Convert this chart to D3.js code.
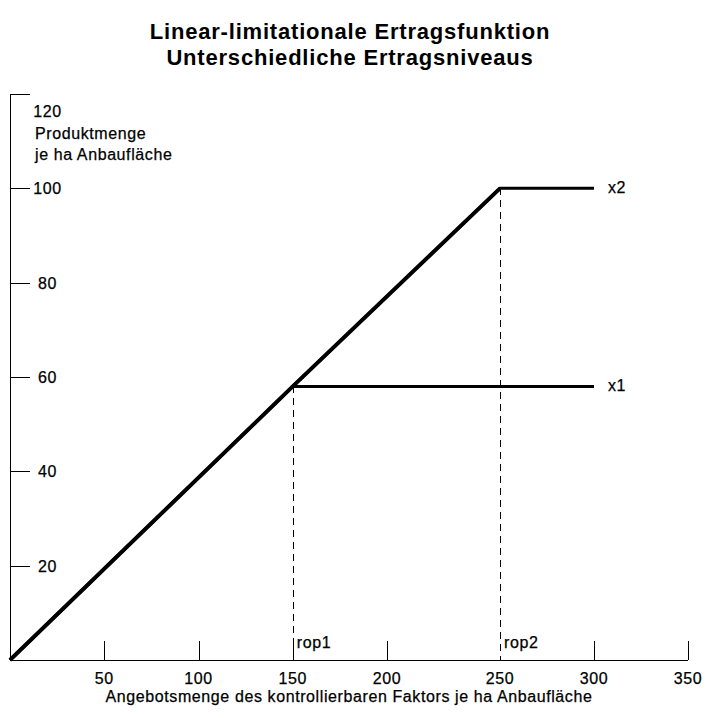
<!DOCTYPE html>
<html>
<head>
<meta charset="utf-8">
<script src="https://cdn.jsdelivr.net/npm/d3@7"></script>
<style>
  body { margin: 0; background: #fff; }
  text { font-family: Arial, "Liberation Sans", sans-serif; fill: #000; }
  .lbl { font-size: 16px; letter-spacing: 0.6px; stroke: #000; stroke-width: 0.25px; }
</style>
</head>
<body>
<script>
// chart values
const titleLines = ["Linear-limitationale Ertragsfunktion", "Unterschiedliche Ertragsniveaus"];
const xTicks = [50, 100, 150, 200, 250, 300, 350];
const yTicks = [20, 40, 60, 80, 100, 120];
const yLabelLines = ["Produktmenge", "je ha Anbaufläche"];
const xLabel = "Angebotsmenge des kontrollierbaren Faktors je ha Anbaufläche";
const seriesX1 = [[0, 0], [150, 58], [300, 58]];
const seriesX2 = [[0, 0], [150, 58], [250, 100], [300, 100]];
const ropPoints = [{ name: "rop1", x: 150, y: 58 }, { name: "rop2", x: 250, y: 100 }];

const width = 718, height = 718;
const svg = d3.select("body").append("svg")
  .attr("width", width).attr("height", height);

// the original axis is not evenly spaced between 200 and 300
const xScale = d3.scaleLinear().domain([0, 200, 250, 350]).range([10, 387, 500, 688]);
const yScale = d3.scaleLinear().domain([0, 120]).range([660, 94]);
const px = v => Math.round(v) + 0.5; // crisp 1px lines

// title
svg.append("g").selectAll("text").data(titleLines).enter().append("text")
  .attr("x", 350).attr("y", (d, i) => 39 + i * 26)
  .attr("text-anchor", "middle")
  .style("font-size", "22px").style("font-weight", "bold")
  .style("letter-spacing", "0.8px")
  .text(d => d);

// axes lines
const axes = svg.append("g").attr("stroke", "#000").attr("shape-rendering", "crispEdges");
axes.append("line").attr("x1", px(xScale(0))).attr("x2", px(xScale(0)))
  .attr("y1", yScale(120)).attr("y2", yScale(0));
axes.append("line").attr("x1", xScale(0)).attr("x2", xScale(350))
  .attr("y1", px(yScale(0))).attr("y2", px(yScale(0)));

// x ticks (no tick where the rop2 guide line sits)
axes.selectAll(".xt").data(xTicks.filter(d => d !== 250)).enter().append("line")
  .attr("x1", d => px(xScale(d))).attr("x2", d => px(xScale(d)))
  .attr("y1", yScale(0)).attr("y2", yScale(0) - 19);
svg.append("g").selectAll("text").data(xTicks).enter().append("text")
  .attr("class", "lbl")
  .attr("x", d => xScale(d)).attr("y", yScale(0) + 24)
  .attr("text-anchor", "middle")
  .text(d => d);

svg.append("text").attr("class", "lbl")
  .attr("x", 349).attr("y", yScale(0) + 42)
  .attr("text-anchor", "middle")
  .text(xLabel);

// y ticks
axes.selectAll(".yt").data(yTicks).enter().append("line")
  .attr("x1", xScale(0)).attr("x2", xScale(0) + 20)
  .attr("y1", d => px(yScale(d))).attr("y2", d => px(yScale(d)));
svg.append("g").selectAll("text").data(yTicks).enter().append("text")
  .attr("class", "lbl")
  .attr("x", 47.5)
  .attr("y", d => yScale(d) + (d === 120 ? 23 : 6))
  .attr("text-anchor", "middle")
  .text(d => d);

svg.append("g").selectAll("text").data(yLabelLines).enter().append("text")
  .attr("class", "lbl")
  .attr("x", 35).attr("y", (d, i) => yScale(120) + 45 + i * 21)
  .text(d => d);

// dashed guide lines
svg.append("g").selectAll("line").data(ropPoints).enter().append("line")
  .attr("x1", d => px(xScale(d.x))).attr("x2", d => px(xScale(d.x)))
  .attr("y1", d => yScale(d.y)).attr("y2", yScale(0))
  .attr("stroke", "#000").attr("stroke-dasharray", "7,5")
  .attr("shape-rendering", "crispEdges");
svg.append("g").selectAll("text").data(ropPoints).enter().append("text")
  .attr("class", "lbl")
  .attr("x", d => xScale(d.x) + 4).attr("y", yScale(0) - 12)
  .text(d => d.name);

// yield lines
const line = d3.line().x(d => xScale(d[0])).y(d => yScale(d[1]));
svg.append("path").datum(seriesX1).attr("d", line)
  .attr("fill", "none").attr("stroke", "#000").attr("stroke-width", 3);
svg.append("path").datum(seriesX2).attr("d", line)
  .attr("fill", "none").attr("stroke", "#000").attr("stroke-width", 3);
// rising part drawn a bit heavier
svg.append("path").datum(seriesX2.slice(0, 3)).attr("d", line)
  .attr("fill", "none").attr("stroke", "#000").attr("stroke-width", 4);

// series labels
svg.append("text").attr("class", "lbl")
  .attr("x", xScale(300) + 14).attr("y", yScale(58) + 5).text("x1");
svg.append("text").attr("class", "lbl")
  .attr("x", xScale(300) + 14).attr("y", yScale(100) + 5).text("x2");
</script>
</body>
</html>
